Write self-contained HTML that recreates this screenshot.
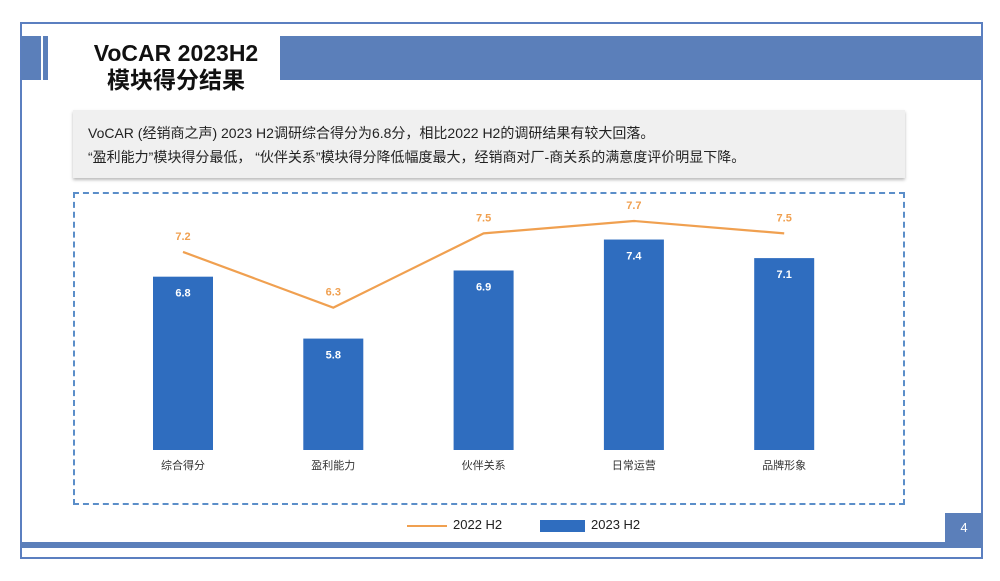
<!DOCTYPE html>
<html><head><meta charset="utf-8"><style>
body{margin:0;width:1000px;height:581px;background:#fff;position:relative;overflow:hidden;font-family:"Liberation Sans","Noto Sans CJK SC",sans-serif}
.abs{position:absolute}
</style></head><body>
<div class="abs" style="left:20px;top:22px;width:963px;height:537px;border:2px solid #5b7fc0;box-sizing:border-box"></div>
<div class="abs" style="left:21px;top:36px;width:20px;height:44px;background:#5b7fba"></div>
<div class="abs" style="left:43px;top:36px;width:5px;height:44px;background:#5b7fba"></div>
<div class="abs" style="left:280px;top:36px;width:701px;height:44px;background:#5b7fba"></div>
<div class="abs" style="left:76px;top:40px;width:200px;text-align:center;font-weight:bold;font-size:23px;line-height:27px;color:#111">VoCAR 2023H2<br>模块得分结果</div>
<div class="abs" style="left:73px;top:110px;width:832px;height:68px;background:#f0f0f0;box-shadow:0 2px 3px #bbb;font-size:14px;color:#222;line-height:24px;padding:11px 0 0 15px;box-sizing:border-box">VoCAR (经销商之声) 2023 H2调研综合得分为6.8分，相比2022 H2的调研结果有较大回落。<br>“盈利能力”模块得分最低，&nbsp;“伙伴关系”模块得分降低幅度最大，经销商对厂-商关系的满意度评价明显下降。</div>
<div class="abs" style="left:73px;top:192px;width:832px;height:313px;border:2px dashed #5b8ec9;box-sizing:border-box"></div>
<svg class="abs" style="left:0;top:0" width="1000" height="581" id="chart"></svg>
<div class="abs" style="left:407px;top:517px;font-size:13px;color:#222"><span style="display:inline-block;width:40px;height:2px;background:#f0a050;vertical-align:middle;margin-right:6px"></span>2022 H2</div>
<div class="abs" style="left:540px;top:517px;font-size:13px;color:#222"><span style="display:inline-block;width:45px;height:12px;background:#2f6dbf;vertical-align:middle;margin-right:6px"></span>2023 H2</div>
<div class="abs" style="left:21px;top:542px;width:962px;height:6px;background:#5b7fba"></div>
<div class="abs" style="left:945px;top:513px;width:38px;height:35px;background:#5b7fba;color:#fff;font-size:13px;text-align:center;line-height:30px">4</div>
<script>
const categories=["综合得分","盈利能力","伙伴关系","日常运营","品牌形象"];
const values2023=[6.8,5.8,6.9,7.4,7.1];
const values2022=[7.2,6.3,7.5,7.7,7.5];
const svg=document.getElementById('chart');
const NS='http://www.w3.org/2000/svg';
const yMin=4,yBase=450,pxPerUnit=61.9;
const y=v=>yBase-(v-yMin)*pxPerUnit;
const x=i=>183+i*150.3;
function mk(t,a){const e=document.createElementNS(NS,t);for(const k in a)e.setAttribute(k,a[k]);svg.appendChild(e);return e;}
categories.forEach((c,i)=>{
  const r=mk('rect',{x:x(i)-30,y:y(values2023[i]),width:60,height:yBase-y(values2023[i]),fill:'#2f6dbf'});
  
  
  const t=mk('text',{x:x(i),y:y(values2023[i])+20,'text-anchor':'middle','font-size':11,'font-weight':'bold',fill:'#fff'});t.textContent=values2023[i].toFixed(1);
  
  
  const l=mk('text',{x:x(i),y:yBase+19,'text-anchor':'middle','font-size':11,fill:'#333'});l.textContent=c;
  
  
});
const pl=mk('polyline',{points:values2022.map((v,i)=>x(i)+','+y(v)).join(' '),fill:'none',stroke:'#f0a050','stroke-width':2.2});


values2022.forEach((v,i)=>{
  const t=mk('text',{x:x(i),y:y(v)-12,'text-anchor':'middle','font-size':11,'font-weight':'bold',fill:'#f0a050'});t.textContent=v.toFixed(1);
  
  
});
</script>
</body></html>
